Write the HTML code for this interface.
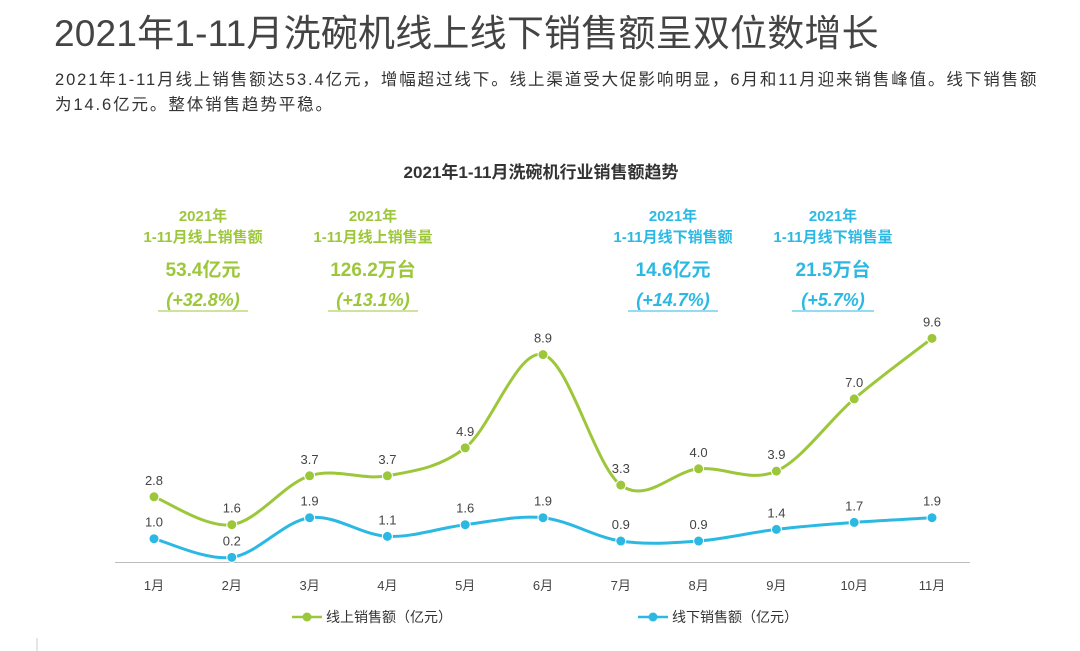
<!DOCTYPE html>
<html><head><meta charset="utf-8">
<style>
body{margin:0;width:1080px;height:651px;background:#fff;font-family:"Liberation Sans","Noto Sans CJK SC",sans-serif;overflow:hidden;position:relative}
.t{position:absolute;white-space:nowrap}
</style></head><body>
<div class="t" style="left:54px;top:3px;font-size:37px;letter-spacing:0.2px;color:#444">2021年1-11月洗碗机线上线下销售额呈双位数增长</div>
<div class="t" style="left:55px;top:68px;font-size:16.5px;letter-spacing:1.9px;line-height:25px;color:#333">2021年1-11月线上销售额达53.4亿元，增幅超过线下。线上渠道受大促影响明显，6月和11月迎来销售峰值。线下销售额<br>为14.6亿元。整体销售趋势平稳。</div>
<svg width="1080" height="651" style="position:absolute;left:0;top:0">
<text x="541" y="178" text-anchor="middle" font-size="17" font-weight="bold" fill="#333">2021年1-11月洗碗机行业销售额趋势</text>
<g font-weight="bold" text-anchor="middle" fill="#9dc73a">
<text x="203" y="221" font-size="15">2021年</text><text x="203" y="242" font-size="15">1-11月线上销售额</text>
<text x="203" y="276" font-size="19">53.4亿元</text><text x="203" y="306" font-size="18" font-style="italic">(+32.8%)</text>
<line x1="158" y1="311" x2="248" y2="311" stroke="#9dc73a"/>
<text x="373" y="221" font-size="15">2021年</text><text x="373" y="242" font-size="15">1-11月线上销售量</text>
<text x="373" y="276" font-size="19">126.2万台</text><text x="373" y="306" font-size="18" font-style="italic">(+13.1%)</text>
<line x1="328" y1="311" x2="418" y2="311" stroke="#9dc73a"/>
</g>
<g font-weight="bold" text-anchor="middle" fill="#2bb9e3">
<text x="673" y="221" font-size="15">2021年</text><text x="673" y="242" font-size="15">1-11月线下销售额</text>
<text x="673" y="276" font-size="19">14.6亿元</text><text x="673" y="306" font-size="18" font-style="italic">(+14.7%)</text>
<line x1="628" y1="311" x2="718" y2="311" stroke="#2bb9e3"/>
<text x="833" y="221" font-size="15">2021年</text><text x="833" y="242" font-size="15">1-11月线下销售量</text>
<text x="833" y="276" font-size="19">21.5万台</text><text x="833" y="306" font-size="18" font-style="italic">(+5.7%)</text>
<line x1="792" y1="311" x2="874" y2="311" stroke="#2bb9e3"/>
</g>
<line x1="115" y1="562.5" x2="970" y2="562.5" stroke="#bbb"/>
<g id="plot"></g>
<line x1="292" y1="617" x2="322" y2="617" stroke="#9dc73a" stroke-width="2.5"/><circle cx="307" cy="617" r="4.5" fill="#9dc73a"/>
<text x="326" y="622" font-size="14" fill="#333">线上销售额（亿元）</text>
<line x1="638" y1="617" x2="668" y2="617" stroke="#2bb9e3" stroke-width="2.5"/><circle cx="653" cy="617" r="4.5" fill="#2bb9e3"/>
<text x="672" y="622" font-size="14" fill="#333">线下销售额（亿元）</text>
<line x1="37" y1="638" x2="37" y2="651" stroke="#ccc"/>
</svg>
<script>
const months=["1月","2月","3月","4月","5月","6月","7月","8月","9月","10月","11月"];
const online=[2.8,1.6,3.7,3.7,4.9,8.9,3.3,4.0,3.9,7.0,9.6];
const offline=[1.0,0.2,1.9,1.1,1.6,1.9,0.9,0.9,1.4,1.7,1.9];
const g=document.getElementById('plot');const NS="http://www.w3.org/2000/svg";
const X=i=>154+i*77.8, Y=v=>562-23.3*v;
function mk(t,a){const e=document.createElementNS(NS,t);for(const k in a)e.setAttribute(k,a[k]);g.appendChild(e);return e;}
months.forEach((m,i)=>{const t=mk('text',{x:X(i),y:590,'text-anchor':'middle','font-size':13,fill:'#444'});t.textContent=m;

});
function series(vals,color,name){
const p=vals.map((v,i)=>[X(i),Y(v)]);let d=`M${p[0][0]},${p[0][1]}`;
for(let i=0;i<p.length-1;i++){const p0=p[i-1]||p[i],p1=p[i],p2=p[i+1],p3=p[i+2]||p2;
d+=` C${p1[0]+(p2[0]-p0[0])/6},${p1[1]+(p2[1]-p0[1])/6} ${p2[0]-(p3[0]-p1[0])/6},${p2[1]-(p3[1]-p1[1])/6} ${p2[0]},${p2[1]}`;}
const l=mk('path',{d,fill:'none',stroke:color,'stroke-width':3});


p.forEach((q,i)=>{const c=mk('circle',{cx:q[0],cy:q[1],r:5,fill:color,stroke:'#fff','stroke-width':1});


const t=mk('text',{x:q[0],y:q[1]-12,'text-anchor':'middle','font-size':13,fill:'#444'});t.textContent=vals[i].toFixed(1);

});}
series(offline,'#2bb9e3','offline');
series(online,'#9dc73a','online');
</script>
</body></html>
